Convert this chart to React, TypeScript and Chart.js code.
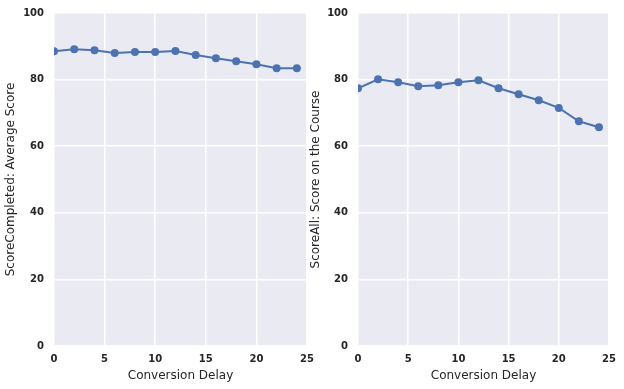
import React, { useEffect, useRef } from "react";
import { Chart, registerables } from "chart.js";

Chart.register(...registerables);

const delays = [0, 2, 4, 6, 8, 10, 12, 14, 16, 18, 20, 22, 24];
const scoreCompleted = [88.5, 89.1, 88.8, 88.0, 88.3, 88.3, 88.6, 87.4, 86.4, 85.5, 84.6, 83.4, 83.4];
const scoreAll = [77.4, 80.1, 79.2, 78.0, 78.3, 79.2, 79.8, 77.4, 75.6, 73.8, 71.5, 67.5, 65.7];
const xTicks = [0, 5, 10, 15, 20, 25];
const yTicks = [0, 20, 40, 60, 80, 100];
const xTitle = "Conversion Delay";
const leftTitle = "ScoreCompleted: Average Score";
const rightTitle = "ScoreAll: Score on the Course";

const bgPlugin = {
  id: "bgPlugin",
  beforeDraw(chart: any) {
    const { ctx, chartArea } = chart;
    if (!chartArea) return;
    ctx.save();
    ctx.fillStyle = "#EAEAF2";
    ctx.fillRect(chartArea.left, chartArea.top, chartArea.right - chartArea.left, chartArea.bottom - chartArea.top);
    ctx.restore();
  },
};

type PanelProps = {
  left: number;
  width: number;
  values: number[];
  title: string;
  yAxisWidth: number;
  padRight: number;
  titlePad: number;
};

function Panel({ left, width, values, title, yAxisWidth, padRight, titlePad }: PanelProps) {
  const ref = useRef<HTMLCanvasElement | null>(null);
  useEffect(() => {
    if (!ref.current) return;
    const tickFont = { family: "'DejaVu Sans'", size: 10, weight: "bold" as const };
    const titleFont = { family: "'DejaVu Sans'", size: 12, weight: "normal" as const };
    const chart = new Chart(ref.current, {
      type: "line",
      data: {
        datasets: [
          {
            data: delays.map((d, i) => ({ x: d, y: values[i] })),
            borderColor: "#4C72B0",
            backgroundColor: "#4C72B0",
            pointBackgroundColor: "#4C72B0",
            pointBorderColor: "#4C72B0",
            borderWidth: 2,
            pointRadius: 4,
            pointBorderWidth: 0,
            tension: 0,
            clip: 0,
          } as any,
        ],
      },
      options: {
        animation: false,
        responsive: false,
        devicePixelRatio: 1,
        layout: { padding: { top: 13, right: padRight, left: 0, bottom: 0 } },
        plugins: { legend: { display: false }, tooltip: { enabled: false } },
        scales: {
          x: {
            type: "linear",
            min: 0,
            max: 25,
            afterBuildTicks: (axis: any) => {
              axis.ticks = xTicks.map((v) => ({ value: v }));
            },
            afterFit: (axis: any) => {
              axis.height = 43;
            },
            grid: { color: "#ffffff", lineWidth: 1.5, drawTicks: true, tickLength: 6, tickColor: "rgba(0,0,0,0)" },
            border: { display: false },
            ticks: { font: tickFont, color: "#262626", padding: 1, maxRotation: 0 },
            title: { display: true, text: xTitle, font: titleFont, color: "#262626", padding: { top: 0, bottom: 6 } },
          },
          y: {
            type: "linear",
            min: 0,
            max: 100,
            afterBuildTicks: (axis: any) => {
              axis.ticks = yTicks.map((v) => ({ value: v }));
            },
            afterFit: (axis: any) => {
              axis.width = yAxisWidth;
            },
            grid: { color: "#ffffff", lineWidth: 1.5, drawTicks: true, tickLength: 10, tickColor: "rgba(0,0,0,0)" },
            border: { display: false },
            ticks: { font: tickFont, color: "#262626", padding: 0 },
            title: { display: true, text: title, font: titleFont, color: "#262626", padding: { top: titlePad, bottom: 0 } },
          },
        },
      },
      plugins: [bgPlugin],
    });
    return () => chart.destroy();
  }, []);
  return (
    <canvas
      ref={ref}
      width={width}
      height={389}
      style={{ position: "absolute", left, top: 0, width, height: 389 }}
    />
  );
}

export default function App() {
  return (
    <div style={{ position: "fixed", left: 0, top: 0, width: 624, height: 389, background: "#ffffff", overflow: "hidden" }}>
      <Panel left={0} width={322} values={scoreCompleted} title={leftTitle} yAxisWidth={54} padRight={15} titlePad={4} />
      <Panel left={300} width={324} values={scoreAll} title={rightTitle} yAxisWidth={58} padRight={15} titlePad={9} />
    </div>
  );
}
